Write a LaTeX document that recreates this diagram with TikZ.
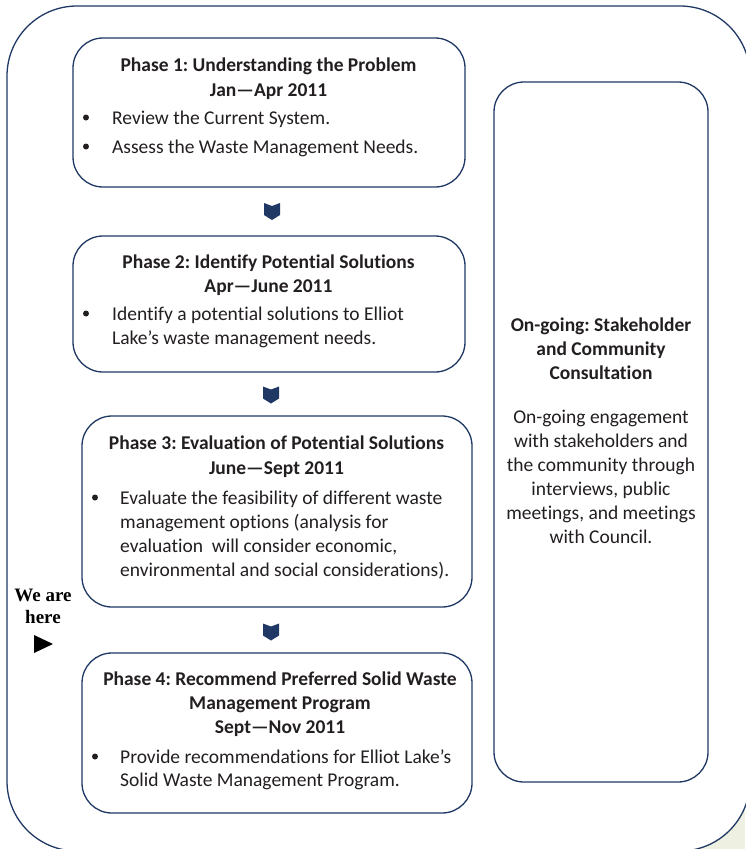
\documentclass[tikz,border=0pt]{standalone}
\usepackage{fontspec}
\setmainfont[Ligatures=NoCommon]{Carlito}
\newfontfamily\serifbold{Liberation Serif}
\frenchspacing
\definecolor{navy}{RGB}{31,56,100}
\definecolor{ink}{RGB}{35,31,32}
\definecolor{paleGreen}{RGB}{238,241,225}
\begin{document}
\begin{tikzpicture}[x=1pt,y=-1pt,
  frame/.style={draw=navy, line width=1.3pt, fill=white, rounded corners=30pt, inner sep=0pt},
  outerframe/.style={draw=navy, line width=1.3pt, fill=white, rounded corners=70pt, inner sep=0pt},
  ttl/.style={font=\bfseries\fontsize{19.5}{23}\selectfont, text=ink, anchor=base, inner sep=0pt},
  txt/.style={font=\fontsize{19.5}{23}\selectfont, text=ink, anchor=base west, inner sep=0pt},
  ctxt/.style={font=\fontsize{19.5}{23}\selectfont, text=ink, anchor=base, inner sep=0pt},
  here/.style={font=\serifbold\bfseries\fontsize{19}{22}\selectfont, text=black, anchor=base, inner sep=0pt},
  bul/.style={circle, fill=ink, minimum size=6pt, inner sep=0pt},
  chev/.pic={\fill[navy] (-8,-8.5) -- (0,-5.5) -- (8,-8.5) -- (8,3.5) -- (0,8.5) -- (-8,3.5) -- cycle;}
]
\useasboundingbox (0,0) rectangle (745,849);
% background corner
\fill[paleGreen] (650,770) rectangle (745,849);
% outer frame
\node[outerframe, minimum width=743pt, minimum height=845pt] (outer) at (378.5,428.5) {};

% phase boxes
\node[frame, minimum width=392pt, minimum height=149pt] (p1) at (269,112.5) {};
\node[frame, minimum width=392pt, minimum height=136pt] (p2) at (269,304) {};
\node[frame, minimum width=390pt, minimum height=191pt] (p3) at (277,511.5) {};
\node[frame, minimum width=390pt, minimum height=160pt] (p4) at (277,733) {};
\node[frame, minimum width=214pt, minimum height=700pt] (side) at (601,432) {};

% chevrons
\pic at (272,211.5) {chev};
\pic at (271,395) {chev};
\pic at (271,632) {chev};

% Phase 1
\node[ttl] (p1a) at (268.5,71) {Phase 1: Understanding the Problem};
\node[ttl] (p1b) at (268.5,96) {Jan---Apr 2011};
\node[bul] (p1d1) at (86,117.5) {};
\node[txt] (p1c) at (112,124) {Review the Current System.};
\node[bul] (p1d2) at (86,146.5) {};
\node[txt] (p1e) at (112,153) {Assess the Waste Management Needs.};

% Phase 2
\node[ttl] (p2a) at (268.5,268) {Phase 2: Identify Potential Solutions};
\node[ttl] (p2b) at (268.5,292) {Apr---June 2011};
\node[bul] (p2d1) at (86,313.5) {};
\node[txt] (p2c) at (112,320) {Identify a potential solutions to Elliot};
\node[txt] (p2e) at (112,344) {Lake’s waste management needs.};

% Phase 3
\node[ttl] (p3a) at (276.5,449) {Phase 3: Evaluation of Potential Solutions};
\node[ttl] (p3b) at (276.5,474) {June---Sept 2011};
\node[bul] (p3d1) at (95,497.5) {};
\node[txt] (p3c) at (120,504) {Evaluate the feasibility of different waste};
\node[txt] (p3e) at (120,528) {management options (analysis for};
\node[txt] (p3f) at (120,552) {evaluation\ \ will consider economic,};
\node[txt] (p3g) at (120,576) {environmental and social considerations).};

% Phase 4
\node[ttl] (p4a) at (280,685) {Phase 4: Recommend Preferred Solid Waste};
\node[ttl] (p4b) at (280,709) {Management Program};
\node[ttl] (p4c) at (280,733) {Sept---Nov 2011};
\node[bul] (p4d1) at (95,756.5) {};
\node[txt] (p4e) at (120,763) {Provide recommendations for Elliot Lake’s};
\node[txt] (p4f) at (120,786) {Solid Waste Management Program.};

% side box text
\node[ttl] (s1) at (601,331) {On-going: Stakeholder};
\node[ttl] (s2) at (601,355) {and Community};
\node[ttl] (s3) at (601,379) {Consultation};
\node[ctxt] (s4) at (601,423) {On-going engagement};
\node[ctxt] (s5) at (601,447) {with stakeholders and};
\node[ctxt] (s6) at (601,471) {the community through};
\node[ctxt] (s7) at (601,495) {interviews, public};
\node[ctxt] (s8) at (601,519) {meetings, and meetings};
\node[ctxt] (s9) at (601,543) {with Council.};

% We are here
\node[here] (w1) at (43,601) {We are};
\node[here] (w2) at (43,623) {here};
\fill[black] (34,635) -- (53,644) -- (34,653) -- cycle;
\end{tikzpicture}
\end{document}
